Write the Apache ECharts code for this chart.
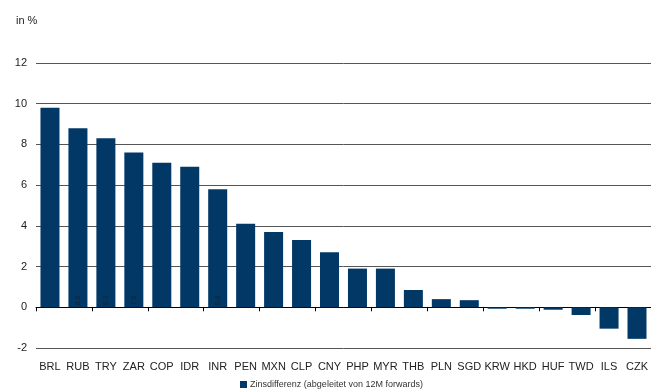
<!DOCTYPE html>
<html><head><meta charset="utf-8">
<script src="https://cdn.jsdelivr.net/npm/echarts@6/dist/echarts.min.js"></script>
<style>html,body{margin:0;padding:0;background:#fff}#c{width:651px;height:392px}</style>
</head><body><div id="c"></div>
<script>
const categories = ['BRL','RUB','TRY','ZAR','COP','IDR','INR','PEN','MXN','CLP','CNY','PHP','MYR','THB','PLN','SGD','KRW','HKD','HUF','TWD','ILS','CZK'];
const values = [9.8, 8.8, 8.3, 7.6, 7.1, 6.9, 5.8, 4.1, 3.7, 3.3, 2.7, 1.9, 1.9, 0.85, 0.4, 0.35, -0.07, -0.07, -0.12, -0.38, -1.05, -1.55];
const innerLabels = ['', '8.8', '8.3', '7.6', '', '', '5.8', '', '', '', '', '', '', '', '', '', '', '', '', '', '', ''];
const seriesName = 'Zinsdifferenz (abgeleitet von 12M forwards)';
const yMin = -2, yMax = 12, yStep = 2;

const font = 'Liberation Sans, Arial, sans-serif';
const chart = echarts.init(document.getElementById('c'));
chart.setOption({
  animation: false,
  textStyle: { fontFamily: font },
  title: { text: 'in %', left: 11, top: 10, textStyle: { fontSize: 11, fontWeight: 'normal', color: '#222', fontFamily: font } },
  grid: { left: 36, right: 0, top: 63, bottom: 44, containLabel: false },
  legend: {
    bottom: -2, left: 235, itemWidth: 7, itemHeight: 7, itemGap: 4,
    icon: 'rect',
    textStyle: { fontSize: 9, color: '#333', fontFamily: font, padding: [0, 0, 0, -2] },
    data: [seriesName]
  },
  xAxis: [{
    type: 'category', data: categories, position: 'bottom',
    axisLine: { show: false, onZero: false }, axisTick: { show: false },
    axisLabel: { color: '#222', fontSize: 11, margin: 13, fontFamily: font, interval: 0 }
  }, {
    type: 'category', data: categories, position: 'bottom',
    axisLine: { show: true, onZero: true, lineStyle: { color: '#000', width: 1 } },
    axisTick: { show: true, length: 4, lineStyle: { color: '#000' } },
    axisLabel: { show: false }
  }],
  yAxis: {
    type: 'value', min: yMin, max: yMax, interval: yStep,
    axisLine: { show: false }, axisTick: { show: false },
    axisLabel: { color: '#222', fontSize: 11, margin: 9, fontFamily: font },
    splitLine: { lineStyle: { color: '#555', width: 1 } }
  },
  series: [{
    name: seriesName, type: 'bar', data: values, barWidth: '68%',
    itemStyle: { color: '#023866' },
    label: {
      show: true, position: 'insideBottom', rotate: 90, align: 'left', verticalAlign: 'middle',
      distance: 2, fontSize: 7, color: '#182230',
      formatter: p => innerLabels[p.dataIndex]
    }
  }]
});
</script></body></html>
